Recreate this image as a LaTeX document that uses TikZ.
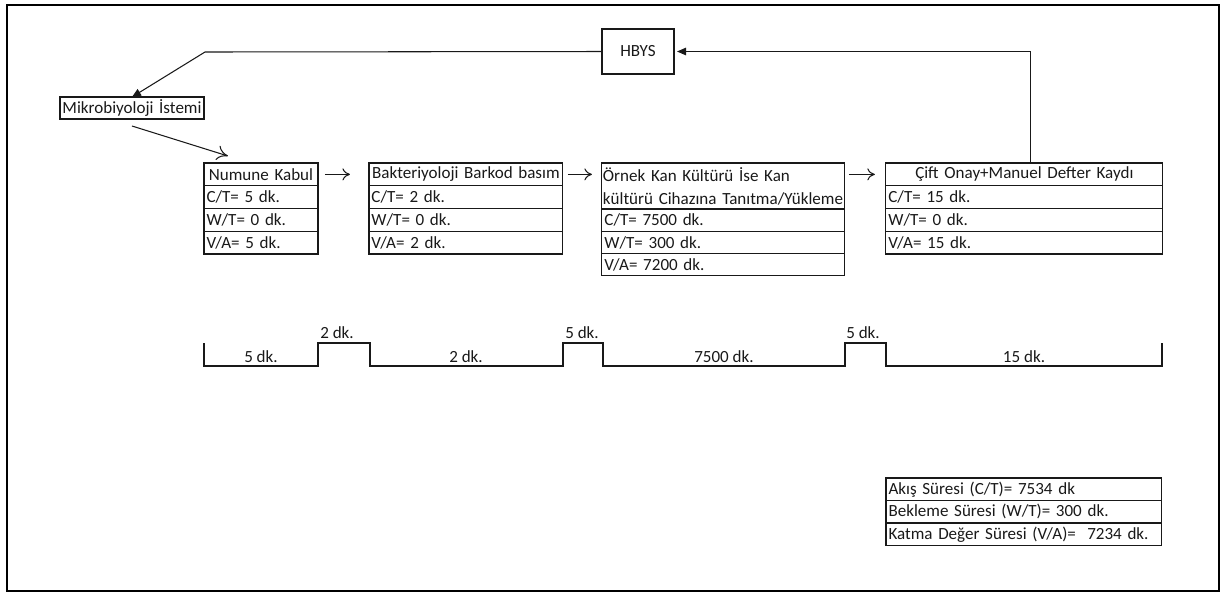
\documentclass[tikz,border=0pt]{standalone}
\usepackage{fontspec}
\setmainfont{Carlito}
\usepackage{tikz}
\usetikzlibrary{arrows.meta,positioning,calc}

\definecolor{vsmInk}{RGB}{25,25,25}
\definecolor{vsmFrame}{RGB}{0,0,0}

\begin{document}
\begin{tikzpicture}[
  x=0.02cm, y=-0.02cm,
  every node/.style={font=\fontsize{9.7}{13}\selectfont, text=vsmInk},
  cell/.style={draw=vsmInk, line width=0.6pt, inner xsep=0.05cm, inner ysep=0pt,
               minimum height=0.455cm, text width=#1, align=left, outer sep=0pt},
  title/.style={cell=#1, align=center},
  lbl/.style={inner sep=0pt},
  oarr/.style={-{To[length=1.5mm, width=2.4mm]}, line width=0.6pt, draw=vsmInk},
  farr/.style={-{Triangle[length=1.8mm, width=1.5mm]}, line width=0.6pt, draw=vsmInk}
]
  \useasboundingbox (0,0) rectangle (1226,593);
  \draw[vsmFrame, line width=1.3pt] (7,5) rectangle (1219,591);

  % information flow
  \node[draw=vsmInk, line width=0.6pt, minimum width=1.44cm, minimum height=0.9cm] (hbys) at (638,51.5) {HBYS};
  \node[title=2.84cm, inner xsep=0.02cm, minimum height=0.44cm, anchor=north west] (mik) at (60,97) {Mikrobiyoloji İstemi};

  % process boxes
  \node[title=2.18cm, anchor=north west] (num) at (204,163) {Numune Kabul};
  \node[cell=2.18cm, below=0pt of num]   (numct) {C/T= 5 dk.};
  \node[cell=2.18cm, below=0pt of numct] (numwt) {W/T= 0 dk.};
  \node[cell=2.18cm, below=0pt of numwt] (numva) {V/A= 5 dk.};

  \node[title=3.78cm, right=1.02cm of num.north east, anchor=north west] (bak) {Bakteriyoloji Barkod basım};
  \node[cell=3.78cm, below=0pt of bak]   (bakct) {C/T= 2 dk.};
  \node[cell=3.78cm, below=0pt of bakct] (bakwt) {W/T= 0 dk.};
  \node[cell=3.78cm, below=0pt of bakwt] (bakva) {V/A= 2 dk.};

  \node[cell=4.82cm, inner xsep=0.02cm, minimum height=0.92cm, right=0.78cm of bak.north east, anchor=north west] (ork)
       {Örnek Kan Kültürü İse Kan\\kültürü Cihazına Tanıtma/Yükleme};
  \node[cell=4.76cm, minimum height=0.446cm, below=0pt of ork]   (orkct) {C/T= 7500 dk.};
  \node[cell=4.76cm, minimum height=0.446cm, below=0pt of orkct] (orkwt) {W/T= 300 dk.};
  \node[cell=4.76cm, minimum height=0.446cm, below=0pt of orkwt] (orkva) {V/A= 7200 dk.};

  \node[title=5.44cm, right=0.82cm of ork.north east, anchor=north west] (cift) {Çift Onay+Manuel Defter Kaydı};
  \node[cell=5.44cm, below=0pt of cift]   (cifct) {C/T= 15 dk.};
  \node[cell=5.44cm, below=0pt of cifct]  (cifwt) {W/T= 0 dk.};
  \node[cell=5.44cm, below=0pt of cifwt]  (cifva) {V/A= 15 dk.};

  % connectors
  \coordinate (hbysBend) at (205,52);
  \draw[farr] (hbys.west) -- (hbysBend) -- (mik.north);
  \draw[oarr, -{To[length=2.2mm, width=3mm]}] ([yshift=-0.14cm]mik.south) -- ([xshift=0.48cm, yshift=0.14cm]num.north west);
  \draw[oarr, shorten <=0.14cm, shorten >=0.38cm] (num.east) -- (bak.west);
  \draw[oarr, shorten <=0.1cm, shorten >=0.2cm] (bak.east) -- (bak.east -| ork.west);
  \draw[oarr, shorten <=0.08cm, shorten >=0.22cm] (cift.west -| ork.east) -- (cift.west);
  \draw[farr, shorten >=0.05cm] ($(cift.north)+(6.5,0)$) |- (hbys.east);

  % timeline
  \draw[vsmInk, line width=0.6pt] (204,343) -- (204,366) -- (318,366) -- (318,343) -- (370,343)
    -- (370,366) -- (563,366) -- (563,343) -- (603,343) -- (603,366) -- (845,366)
    -- (845,343) -- (886,343) -- (886,366) -- (1162,366) -- (1162,343);
  \node[lbl] (tl1) at (261,357)  {5 dk.};
  \node[lbl] (tl2) at (337,333)  {2 dk.};
  \node[lbl] (tl3) at (466,357)  {2 dk.};
  \node[lbl] (tl4) at (582,333)  {5 dk.};
  \node[lbl] (tl5) at (724,357)  {7500 dk.};
  \node[lbl] (tl6) at (863,333)  {5 dk.};
  \node[lbl] (tl7) at (1024,357) {15 dk.};

  % totals
  \node[cell=5.42cm, minimum height=0.45cm, anchor=north west] (sumct) at (886,478) {Akış Süresi (C/T)= 7534 dk};
  \node[cell=5.42cm, minimum height=0.45cm, below=0pt of sumct] (sumwt) {Bekleme Süresi (W/T)= 300 dk.};
  \node[cell=5.42cm, minimum height=0.45cm, below=0pt of sumwt] (sumva) {Katma Değer Süresi (V/A)=~ 7234 dk.};
\end{tikzpicture}
\end{document}
